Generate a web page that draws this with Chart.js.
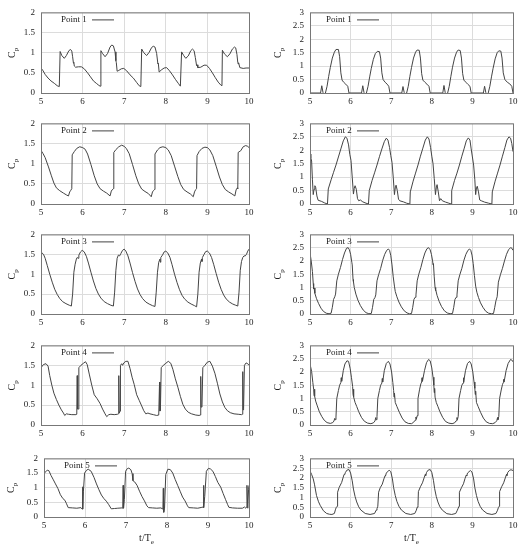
<!DOCTYPE html>
<html>
<head>
<meta charset="utf-8">
<title>Cp time histories</title>
<script src="https://cdn.jsdelivr.net/npm/chart.js"></script>
<style>
  body { margin: 0; background: #fff; }
  #fig { position: relative; width: 524px; height: 550px; }
  #fig canvas { position: absolute; }
</style>
</head>
<body>
<div id="fig"></div>
<script>
// ---- data (t/Te, Cp) ----
var p1L_t = [5.00,5.05,5.10,5.17,5.24,5.32,5.39,5.44,5.46,5.50,5.56,5.61,5.67,5.71,5.74,5.76,5.78,5.79,5.80,5.83,5.90,5.97,6.04,6.12,6.19,6.26,6.33,6.39,6.42,
  6.44,6.48,6.54,6.60,6.66,6.70,6.74,6.78,6.80,6.81,6.83,6.87,6.93,6.99,7.06,7.14,7.22,7.30,7.36,7.40,
  7.42,7.47,7.54,7.60,7.66,7.70,7.74,7.78,7.81,7.82,7.84,7.89,7.96,8.02,8.09,8.16,8.23,8.30,8.35,
  8.38,8.43,8.48,8.54,8.60,8.64,8.68,8.71,8.74,8.75,8.77,8.84,8.92,8.98,9.05,9.12,9.19,9.26,9.32,9.35,
  9.36,9.41,9.48,9.54,9.60,9.65,9.68,9.71,9.73,9.74,9.75,9.78,9.86,9.93,10.00];
var p1L_cp = [0.62,0.55,0.46,0.37,0.30,0.24,0.18,0.16,1.03,0.93,0.86,0.93,1.05,1.08,1.04,0.90,0.74,0.76,0.67,0.64,0.65,0.65,0.60,0.50,0.40,0.30,0.24,0.19,0.17,
  1.05,0.98,0.90,0.98,1.14,1.19,1.17,1.02,0.80,0.76,0.54,0.56,0.60,0.61,0.55,0.45,0.37,0.26,0.18,0.16,
  1.09,1.00,0.93,1.01,1.13,1.16,1.14,0.98,0.72,0.74,0.52,0.57,0.62,0.63,0.55,0.45,0.34,0.24,0.17,
  1.02,0.93,0.86,0.92,1.05,1.09,1.05,0.88,0.68,0.70,0.63,0.64,0.69,0.69,0.61,0.50,0.38,0.27,0.20,0.18,
  1.06,0.97,0.90,0.97,1.09,1.14,1.12,0.96,0.76,0.72,0.75,0.63,0.61,0.62,0.62];

var p1R_t = [5.00,5.26,5.29,5.32,5.35,5.38,5.42,5.46,5.50,5.55,5.60,5.64,5.70,5.73,5.76,5.79,5.83,5.88,5.93,5.96,
  6.27,6.30,6.33,6.36,6.39,6.43,6.47,6.51,6.56,6.61,6.66,6.71,6.74,6.77,6.80,6.85,6.90,6.94,6.97,
  7.26,7.29,7.32,7.35,7.38,7.42,7.46,7.50,7.55,7.60,7.64,7.69,7.72,7.75,7.78,7.83,7.88,7.93,7.96,
  8.27,8.30,8.33,8.36,8.39,8.43,8.47,8.51,8.56,8.61,8.65,8.70,8.73,8.76,8.79,8.84,8.89,8.94,8.97,
  9.27,9.30,9.33,9.36,9.39,9.43,9.47,9.51,9.56,9.61,9.65,9.70,9.73,9.76,9.80,9.86,9.92,9.97,10.00];
var p1R_cp = [0,0,0.27,0.02,-0.04,0,0.25,0.62,0.95,1.30,1.52,1.62,1.62,1.35,0.75,0.48,0.40,0.33,0.25,0,
  0,0.27,0.02,-0.05,0,0.25,0.60,0.92,1.25,1.47,1.55,1.54,1.30,0.75,0.50,0.40,0.33,0.25,0,
  0,0.24,0.02,-0.04,0,0.25,0.62,0.95,1.30,1.52,1.60,1.59,1.30,0.72,0.48,0.40,0.33,0.25,0,
  0,0.28,0.02,-0.05,0,0.25,0.62,0.96,1.30,1.52,1.60,1.58,1.30,0.72,0.48,0.40,0.32,0.25,0,
  0,0.25,0.02,-0.05,0,0.25,0.60,0.92,1.27,1.50,1.57,1.56,1.30,0.75,0.50,0.40,0.34,0.25,0];

var p2L_t = [5.00,5.05,5.10,5.18,5.25,5.31,5.37,5.45,5.54,5.62,5.66,5.69,5.71,5.74,
  5.75,5.80,5.86,5.93,6.00,6.06,6.12,6.20,6.28,6.35,6.42,6.50,6.58,6.66,6.69,6.71,6.74,
  6.75,6.80,6.87,6.94,7.00,7.05,7.12,7.20,7.28,7.35,7.42,7.50,7.58,7.65,7.68,7.71,7.73,
  7.74,7.80,7.86,7.93,8.00,8.06,8.13,8.21,8.29,8.36,8.43,8.51,8.59,8.66,8.69,8.72,8.74,
  8.75,8.80,8.87,8.94,9.00,9.06,9.13,9.21,9.29,9.36,9.43,9.51,9.59,9.66,9.69,9.72,9.73,
  9.74,9.80,9.86,9.92,9.97,10.00];
var p2L_cp = [1.33,1.25,1.15,0.92,0.70,0.52,0.40,0.33,0.27,0.22,0.20,0.30,0.33,0.38,
  1.22,1.30,1.38,1.42,1.40,1.36,1.24,0.98,0.70,0.50,0.38,0.32,0.27,0.20,0.32,0.35,0.38,
  1.28,1.35,1.42,1.46,1.43,1.38,1.25,0.98,0.70,0.50,0.37,0.31,0.26,0.18,0.30,0.34,0.36,
  1.24,1.34,1.40,1.42,1.40,1.34,1.20,0.94,0.68,0.48,0.36,0.30,0.25,0.18,0.30,0.36,0.38,
  1.20,1.30,1.38,1.41,1.40,1.34,1.20,0.94,0.67,0.48,0.36,0.30,0.25,0.20,0.35,0.40,0.38,
  1.28,1.32,1.42,1.45,1.43,1.40];

var p2R_t = [5.00,5.02,5.04,5.06,5.08,5.10,5.12,5.14,5.17,5.20,5.28,5.36,5.43,
  5.45,5.52,5.58,5.64,5.70,5.76,5.82,5.87,5.91,5.95,5.98,6.01,6.04,6.07,6.09,6.11,6.14,6.17,6.20,6.24,6.30,6.38,6.44,
  6.46,6.53,6.59,6.65,6.71,6.77,6.83,6.88,6.92,6.96,6.99,7.02,7.05,7.08,7.10,7.12,7.15,7.18,7.21,7.30,7.38,7.46,
  7.47,7.54,7.60,7.66,7.72,7.78,7.84,7.89,7.93,7.97,8.00,8.03,8.06,8.09,8.11,8.13,8.16,8.19,8.22,8.26,8.34,8.42,8.48,
  8.49,8.56,8.62,8.68,8.74,8.80,8.85,8.90,8.94,8.97,9.00,9.03,9.06,9.08,9.10,9.12,9.15,9.18,9.22,9.30,9.40,9.48,
  9.49,9.56,9.62,9.68,9.74,9.80,9.85,9.90,9.94,9.97,10.00];
var p2R_cp = [1.86,1.72,1.60,0.90,0.35,0.55,0.68,0.62,0.30,0.14,0.10,0.04,0.00,
  0.56,0.90,1.18,1.45,1.75,2.05,2.35,2.50,2.45,2.20,1.85,1.62,1.00,0.37,0.58,0.68,0.55,0.20,0.12,0.15,0.08,0.03,0.00,
  0.50,0.88,1.16,1.45,1.76,2.05,2.32,2.45,2.38,2.10,1.80,1.55,1.00,0.35,0.60,0.70,0.50,0.18,0.12,0.08,0.03,0.00,
  0.45,0.85,1.15,1.45,1.78,2.08,2.38,2.50,2.42,2.10,1.78,1.50,0.95,0.35,0.60,0.72,0.45,0.12,0.20,0.12,0.07,0.03,0.00,
  0.50,0.88,1.15,1.45,1.78,2.08,2.35,2.46,2.38,2.05,1.75,1.45,0.90,0.35,0.60,0.66,0.45,0.15,0.12,0.07,0.03,0.00,
  0.45,0.85,1.15,1.45,1.78,2.10,2.38,2.50,2.45,2.25,1.95];

var p3L_t = [5.00,5.06,5.10,5.15,5.21,5.27,5.33,5.39,5.45,5.52,5.60,5.68,5.73,
  5.76,5.79,5.82,5.85,5.87,5.89,5.91,5.95,5.99,6.04,6.09,6.14,6.20,6.26,6.32,6.38,6.44,6.52,6.60,6.68,6.74,
  6.77,6.80,6.83,6.86,6.89,6.92,6.96,7.00,7.04,7.09,7.14,7.20,7.26,7.32,7.38,7.44,7.52,7.60,7.68,7.74,
  7.77,7.80,7.83,7.86,7.87,7.88,7.92,7.96,8.00,8.05,8.10,8.15,8.21,8.27,8.33,8.39,8.45,8.53,8.61,8.69,8.74,
  8.77,8.80,8.83,8.86,8.87,8.88,8.92,8.96,9.00,9.05,9.10,9.15,9.21,9.27,9.33,9.39,9.45,9.53,9.61,9.68,9.73,
  9.76,9.79,9.82,9.85,9.88,9.91,9.94,9.97,10.00];
var p3L_cp = [1.56,1.50,1.40,1.22,1.00,0.80,0.62,0.49,0.39,0.31,0.26,0.22,0.20,
  0.50,1.05,1.25,1.38,1.42,1.40,1.48,1.56,1.60,1.56,1.45,1.28,1.05,0.83,0.64,0.50,0.40,0.31,0.26,0.22,0.20,
  0.55,1.10,1.40,1.48,1.46,1.52,1.60,1.63,1.58,1.46,1.28,1.04,0.82,0.63,0.49,0.39,0.30,0.25,0.21,0.19,
  0.55,1.05,1.30,1.38,1.30,1.42,1.48,1.56,1.58,1.53,1.42,1.24,1.00,0.79,0.61,0.47,0.38,0.30,0.25,0.21,0.18,
  0.50,1.05,1.28,1.38,1.32,1.42,1.50,1.57,1.58,1.53,1.42,1.25,1.02,0.80,0.62,0.48,0.38,0.30,0.25,0.22,0.20,
  0.55,1.10,1.32,1.42,1.46,1.46,1.50,1.58,1.63];

var p3R_t = [5.00,5.03,5.06,5.08,5.09,5.10,5.12,5.16,5.21,5.27,5.33,5.40,5.47,5.52,
  5.55,5.58,5.61,5.63,5.66,5.70,5.75,5.80,5.85,5.90,5.94,5.97,6.00,6.03,6.04,6.06,6.07,6.09,6.13,6.18,6.24,6.31,6.38,6.45,6.51,
  6.54,6.57,6.60,6.62,6.65,6.69,6.74,6.79,6.84,6.89,6.93,6.96,6.99,7.02,7.05,7.08,7.10,7.14,7.19,7.25,7.32,7.39,7.45,7.50,
  7.53,7.56,7.59,7.61,7.64,7.68,7.73,7.78,7.83,7.88,7.92,7.96,7.99,8.02,8.03,8.04,8.06,8.08,8.09,8.10,8.13,8.18,8.24,8.31,8.38,8.45,8.51,
  8.54,8.57,8.60,8.62,8.65,8.69,8.74,8.79,8.84,8.89,8.93,8.96,8.99,9.02,9.05,9.08,9.11,9.15,9.20,9.26,9.33,9.40,9.47,9.52,
  9.55,9.58,9.60,9.61,9.64,9.69,9.74,9.79,9.84,9.89,9.94,9.97,10.00];
var p3R_cp = [2.30,2.00,1.60,1.15,0.95,0.98,0.78,0.58,0.40,0.22,0.10,0.03,0.01,0.03,
  0.25,0.55,0.65,0.75,1.25,1.50,1.75,2.05,2.30,2.48,2.50,2.42,2.25,1.95,1.85,1.30,1.22,1.00,0.75,0.52,0.32,0.15,0.05,0.01,0.02,
  0.25,0.55,0.62,0.72,1.25,1.48,1.72,2.02,2.25,2.40,2.45,2.40,2.20,1.85,1.40,1.05,0.85,0.65,0.45,0.27,0.12,0.04,0.01,0.02,
  0.25,0.55,0.63,0.72,1.25,1.50,1.75,2.05,2.30,2.46,2.50,2.42,2.25,2.00,1.85,1.90,1.40,1.00,0.88,0.92,0.70,0.48,0.28,0.12,0.04,0.01,0.02,
  0.25,0.55,0.63,0.72,1.25,1.48,1.72,2.02,2.25,2.40,2.45,2.40,2.22,1.90,1.45,1.05,0.82,0.62,0.42,0.25,0.10,0.03,0.01,0.02,
  0.25,0.50,0.60,0.65,1.20,1.48,1.72,2.00,2.25,2.42,2.50,2.48,2.40];

var p4L_t = [5.00,5.06,5.12,5.17,5.21,5.26,5.31,5.37,5.43,5.49,5.54,5.57,5.61,5.66,5.74,5.84,5.86,5.87,5.88,5.90,
  5.91,5.96,6.02,6.07,6.11,6.16,6.22,6.28,6.35,6.42,6.48,6.54,6.58,6.63,6.68,6.76,6.84,6.86,6.87,6.88,6.90,
  6.91,6.94,6.96,6.99,7.04,7.09,7.14,7.19,7.24,7.30,7.36,7.42,7.47,7.52,7.57,7.62,7.70,7.78,7.83,7.85,7.86,7.87,
  7.89,7.94,8.00,8.06,8.12,8.17,8.23,8.29,8.35,8.41,8.47,8.54,8.62,8.72,8.80,8.83,8.84,8.85,8.87,
  8.89,8.94,9.00,9.06,9.12,9.18,9.24,9.30,9.36,9.42,9.48,9.55,9.64,9.74,9.82,9.84,9.85,9.86,9.87,
  9.89,9.93,9.97,10.00];
var p4L_cp = [1.44,1.52,1.54,1.48,1.24,1.00,0.80,0.64,0.50,0.38,0.30,0.24,0.28,0.27,0.26,0.26,0.27,1.24,0.40,0.40,
  1.44,1.50,1.55,1.59,1.52,1.28,1.00,0.76,0.66,0.54,0.40,0.28,0.21,0.26,0.27,0.26,0.27,0.28,1.24,0.30,0.35,
  1.50,1.54,1.50,1.56,1.60,1.60,1.42,1.20,1.02,0.76,0.62,0.48,0.36,0.28,0.30,0.28,0.26,0.24,0.25,1.08,0.35,0.37,
  1.44,1.50,1.55,1.60,1.55,1.40,1.16,0.95,0.72,0.52,0.40,0.32,0.28,0.25,0.24,0.25,1.22,0.45,0.48,
  1.44,1.50,1.58,1.60,1.48,1.30,1.05,0.78,0.58,0.44,0.36,0.31,0.28,0.27,0.26,0.27,1.34,0.38,0.42,
  1.50,1.56,1.54,1.50];

var p4R_t = [5.00,5.04,5.07,5.09,5.10,5.11,5.12,5.14,5.18,5.23,5.29,5.35,5.42,5.50,5.56,5.59,5.61,5.62,5.64,
  5.66,5.70,5.73,5.76,5.77,5.78,5.82,5.86,5.91,5.95,5.99,6.02,6.05,6.06,6.07,6.08,6.11,6.15,6.20,6.27,6.34,6.42,6.50,6.56,6.60,6.62,6.63,6.65,
  6.67,6.71,6.74,6.77,6.78,6.79,6.83,6.88,6.93,6.97,7.01,7.04,7.06,7.07,7.08,7.10,7.14,7.20,7.27,7.34,7.42,7.50,7.55,7.59,7.61,7.62,7.64,
  7.66,7.70,7.73,7.75,7.76,7.77,7.82,7.87,7.92,7.96,8.00,8.03,8.05,8.06,8.07,8.08,8.11,8.15,8.20,8.27,8.34,8.42,8.50,8.56,8.60,8.62,8.63,8.65,
  8.67,8.71,8.74,8.77,8.78,8.79,8.83,8.88,8.93,8.97,9.01,9.04,9.06,9.07,9.08,9.10,9.14,9.20,9.27,9.34,9.42,9.50,9.56,9.60,9.62,9.63,9.65,
  9.67,9.71,9.74,9.76,9.77,9.78,9.83,9.88,9.94,9.97,10.00];
var p4R_cp = [2.30,2.02,1.60,1.35,1.10,1.35,1.08,0.90,0.72,0.50,0.32,0.18,0.09,0.06,0.09,0.15,0.25,0.20,0.30,
  1.00,1.30,1.50,1.60,1.78,1.65,2.05,2.30,2.42,2.40,2.12,1.80,1.45,1.15,1.35,1.05,0.85,0.70,0.50,0.28,0.14,0.07,0.05,0.08,0.15,0.28,0.20,0.32,
  1.00,1.30,1.50,1.58,1.75,1.62,2.05,2.32,2.40,2.30,2.00,1.60,1.30,1.05,1.20,0.85,0.70,0.48,0.26,0.12,0.06,0.05,0.10,0.18,0.30,0.22,0.35,
  1.00,1.35,1.55,1.62,1.78,1.65,2.05,2.35,2.47,2.42,2.15,1.80,1.50,1.22,1.38,1.05,0.85,0.70,0.50,0.28,0.13,0.07,0.05,0.08,0.16,0.28,0.20,0.32,
  1.00,1.30,1.50,1.58,1.78,1.62,2.05,2.32,2.40,2.30,2.00,1.62,1.38,1.15,1.28,0.85,0.70,0.48,0.26,0.12,0.06,0.05,0.09,0.16,0.28,0.20,0.32,
  1.00,1.32,1.52,1.60,1.72,1.62,2.05,2.32,2.47,2.45,2.38];

var p5L_t = [5.00,5.00,5.03,5.08,5.12,5.17,5.22,5.28,5.34,5.40,5.46,5.51,5.55,5.59,5.70,5.80,5.90,5.93,5.94,5.95,5.96,
  5.99,6.04,6.08,6.15,6.22,6.28,6.34,6.40,6.46,6.52,6.58,6.64,6.72,6.80,6.90,6.92,6.93,6.94,6.96,
  6.99,7.03,7.07,7.12,7.15,7.17,7.21,7.27,7.33,7.39,7.45,7.51,7.55,7.65,7.75,7.85,7.90,7.91,7.92,7.94,
  7.97,8.02,8.08,8.14,8.20,8.26,8.32,8.38,8.44,8.50,8.53,8.65,8.75,8.85,8.88,8.89,8.90,8.92,
  8.96,9.01,9.06,9.12,9.18,9.24,9.31,9.37,9.43,9.48,9.51,9.60,9.72,9.84,9.89,9.92,9.94,9.95,9.97,9.99,10.00];
var p5L_cp = [1.02,1.45,1.53,1.60,1.58,1.42,1.29,1.13,0.97,0.76,0.63,0.57,0.45,0.32,0.31,0.30,0.32,0.27,1.03,0.27,0.86,
  1.50,1.60,1.63,1.56,1.35,1.13,0.93,0.75,0.63,0.54,0.42,0.28,0.29,0.30,0.31,0.30,1.08,0.30,0.60,
  1.56,1.65,1.67,1.61,1.48,1.24,1.20,1.08,0.88,0.70,0.55,0.38,0.32,0.31,0.30,0.31,0.27,0.98,0.16,0.30,
  1.45,1.63,1.62,1.50,1.28,1.08,0.88,0.68,0.55,0.38,0.32,0.31,0.30,0.33,0.34,1.08,0.32,0.70,
  1.56,1.66,1.64,1.56,1.38,1.18,1.02,0.80,0.59,0.42,0.33,0.31,0.30,0.30,0.34,0.30,0.34,1.08,0.30,0.95,1.08];

var p5R_t = [5.00,5.04,5.08,5.11,5.16,5.21,5.25,5.33,5.41,5.48,5.54,5.60,5.63,5.65,5.67,
  5.68,5.72,5.78,5.82,5.84,5.86,5.87,5.91,5.96,6.00,6.04,6.07,6.11,6.15,6.20,6.25,6.36,6.48,6.59,6.63,6.65,6.67,
  6.69,6.73,6.78,6.82,6.85,6.86,6.88,6.95,6.99,7.03,7.06,7.10,7.14,7.19,7.25,7.36,7.48,7.58,7.62,7.64,7.66,
  7.67,7.72,7.77,7.81,7.84,7.85,7.87,7.91,7.96,8.00,8.04,8.07,8.11,8.15,8.20,8.26,8.37,8.49,8.59,8.63,8.65,8.67,
  8.68,8.73,8.78,8.82,8.85,8.86,8.88,8.95,8.99,9.03,9.06,9.10,9.14,9.19,9.25,9.36,9.48,9.58,9.62,9.64,9.66,
  9.67,9.72,9.77,9.81,9.84,9.85,9.87,9.91,9.95,10.00];
var p5R_cp = [2.35,2.18,1.95,1.68,1.10,0.78,0.60,0.32,0.18,0.14,0.13,0.18,0.40,0.50,0.55,
  1.27,1.52,1.77,2.05,2.18,2.20,2.27,2.40,2.43,2.25,1.85,1.43,1.05,0.77,0.52,0.36,0.18,0.13,0.18,0.35,0.43,0.55,
  1.27,1.50,1.68,1.95,2.12,2.10,2.25,2.40,2.32,1.95,1.50,1.10,0.80,0.55,0.36,0.18,0.13,0.18,0.35,0.50,0.58,
  1.30,1.55,1.75,2.00,2.18,2.12,2.28,2.40,2.43,2.28,1.88,1.45,1.05,0.77,0.52,0.35,0.17,0.13,0.18,0.35,0.45,0.55,
  1.27,1.50,1.70,1.98,2.15,2.10,2.25,2.38,2.30,1.95,1.50,1.10,0.80,0.55,0.36,0.18,0.13,0.18,0.35,0.48,0.55,
  1.30,1.55,1.75,2.00,2.18,2.12,2.28,2.38,2.42,2.38];

var xTicks = [5, 6, 7, 8, 9, 10];
var yMaxLeft = 2, yMaxRight = 3;

// ---- panel list: column 0 = left, column 1 = right ----
var panels = [
  { label: 'Point 1', t: p1L_t, cp: p1L_cp, col: 0, row: 0 },
  { label: 'Point 1', t: p1R_t, cp: p1R_cp, col: 1, row: 0 },
  { label: 'Point 2', t: p2L_t, cp: p2L_cp, col: 0, row: 1 },
  { label: 'Point 2', t: p2R_t, cp: p2R_cp, col: 1, row: 1 },
  { label: 'Point 3', t: p3L_t, cp: p3L_cp, col: 0, row: 2 },
  { label: 'Point 3', t: p3R_t, cp: p3R_cp, col: 1, row: 2 },
  { label: 'Point 4', t: p4L_t, cp: p4L_cp, col: 0, row: 3 },
  { label: 'Point 4', t: p4R_t, cp: p4R_cp, col: 1, row: 3 },
  { label: 'Point 5', t: p5L_t, cp: p5L_cp, col: 0, row: 4 },
  { label: 'Point 5', t: p5R_t, cp: p5R_cp, col: 1, row: 4 }
];

// layout of the figure (pixels)
var colX = [0, 262];
var plotLeft = [41, 310];
var plotRight = [249, 513];
var rowTop = [9, 120, 231, 342, 455];
var rowBottom = [93, 204, 314, 425, 517];

var FONT = '"Liberation Serif", "Times New Roman", serif';
var LINE = '#444';

// frame, in-plot legend, C_p label and t/T_e title
var decor = {
  id: 'decor',
  afterDatasetsDraw: function (chart, args, o) {
    var ctx = chart.ctx, a = chart.chartArea;
    ctx.save();
    ctx.strokeStyle = '#777';
    ctx.lineWidth = 1;
    ctx.strokeRect(a.left + 0.5, a.top + 0.5, a.right - a.left, a.bottom - a.top);

    // legend
    ctx.fillStyle = '#222';
    ctx.font = '9px ' + FONT;
    ctx.textBaseline = 'middle';
    var lx = a.left + o.legendX, ly = a.top + 7;
    ctx.fillText(chart.data.datasets[0].label, lx, ly);
    ctx.strokeStyle = LINE;
    ctx.beginPath();
    ctx.moveTo(lx + 31, ly + 0.5);
    ctx.lineTo(lx + 53, ly + 0.5);
    ctx.stroke();

    // y title C_p
    ctx.save();
    ctx.translate(a.left + o.cpX, (a.top + a.bottom) / 2);
    ctx.rotate(-Math.PI / 2);
    ctx.textBaseline = 'alphabetic';
    ctx.font = '10px ' + FONT;
    var wc = ctx.measureText('C').width;
    var x0 = -(wc + 4) / 2;
    ctx.fillText('C', x0, 0);
    ctx.font = '7px ' + FONT;
    ctx.fillText('p', x0 + wc, 3);
    ctx.restore();

    // x title t/T_e
    if (o.xTitle) {
      var cx = (a.left + a.right) / 2, ty = a.bottom + 24;
      ctx.textBaseline = 'alphabetic';
      ctx.font = '10px ' + FONT;
      var w1 = ctx.measureText('t/T').width;
      ctx.font = '7px ' + FONT;
      var w2 = ctx.measureText('e').width;
      var sx = cx - (w1 + w2) / 2;
      ctx.font = '10px ' + FONT;
      ctx.fillText('t/T', sx, ty);
      ctx.font = '7px ' + FONT;
      ctx.fillText('e', sx + w1, ty + 3);
    }
    ctx.restore();
  }
};

var fig = document.getElementById('fig');

panels.forEach(function (p) {
  var cx = colX[p.col];
  var top = rowTop[p.row], bottom = rowBottom[p.row];
  var left = (p.col === 0 && p.row === 4) ? 44 : plotLeft[p.col];
  var isBottom = p.row === 4;
  var padTop = 8, axisH = 14, padBottom = isBottom ? 20 : 0;
  var ymax = p.col === 0 ? yMaxLeft : yMaxRight;

  var cv = document.createElement('canvas');
  cv.width = 262;
  cv.height = padTop + (bottom - top) + axisH + padBottom;
  cv.style.left = cx + 'px';
  cv.style.top = (top - padTop) + 'px';
  fig.appendChild(cv);

  var pts = p.t.map(function (t, i) { return { x: t, y: p.cp[i] }; });

  new Chart(cv, {
    type: 'line',
    data: {
      datasets: [{
        label: p.label,
        data: pts,
        borderColor: LINE,
        borderWidth: 1,
        pointRadius: 0,
        tension: 0,
        fill: false
      }]
    },
    options: {
      responsive: false,
      animation: false,
      events: [],
      layout: { padding: { top: padTop, right: cx + 262 - plotRight[p.col], bottom: padBottom, left: 0 } },
      plugins: {
        legend: { display: false },
        tooltip: { enabled: false },
        decor: { legendX: p.col === 0 ? 20 : 16, cpX: p.col === 0 ? (left === 44 ? -30 : -26) : -29, xTitle: isBottom }
      },
      scales: {
        x: {
          type: 'linear', min: xTicks[0], max: xTicks[xTicks.length - 1],
          afterBuildTicks: function (s) { s.ticks = xTicks.map(function (v) { return { value: v }; }); },
          ticks: { color: '#222', font: { family: FONT, size: 9 }, padding: 3, maxRotation: 0, autoSkip: false },
          grid: { color: '#dcdcdc', drawTicks: false },
          border: { display: false },
          afterFit: function (s) { s.height = axisH; }
        },
        y: {
          min: 0, max: ymax,
          ticks: {
            stepSize: 0.5, autoSkip: false, color: '#222', font: { family: FONT, size: 9 }, padding: 6,
            callback: function (v) { return String(Math.round(v * 10) / 10); }
          },
          grid: { color: '#dcdcdc', drawTicks: false },
          border: { display: false },
          afterFit: function (s) { s.width = left - cx; }
        }
      }
    },
    plugins: [decor]
  });
});
</script>
</body>
</html>
